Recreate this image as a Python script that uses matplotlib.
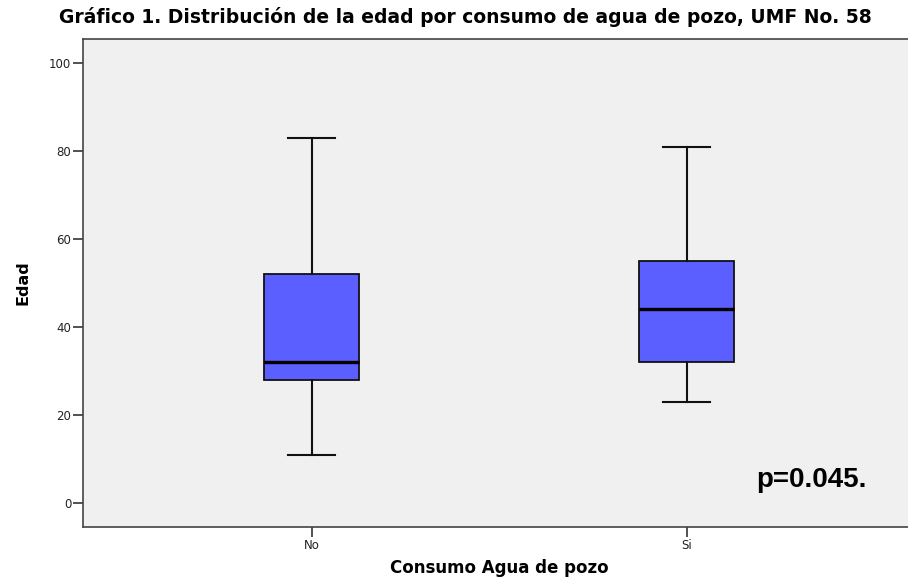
import matplotlib.pyplot as plt

# Box plot summary
categories = ['No', 'Si']
whisker_low = [11, 23]
q1 = [28, 32]
median = [32, 44]
q3 = [52, 55]
whisker_high = [83, 81]

BOX_COLOR = '#5B5FFF'
BG_COLOR = '#F0F0F0'


def main():
    plt.rcParams['font.family'] = ['DejaVu Sans']
    fig = plt.figure(figsize=(9.08, 5.8), dpi=100)
    # right spine sits just past the figure edge, as in the reference
    ax = fig.add_axes([83 / 908, 1 - 527 / 580, 832 / 908, 488 / 580])
    ax.set_facecolor(BG_COLOR)

    stats = []
    for i, name in enumerate(categories):
        stats.append({'label': name, 'whislo': whisker_low[i], 'q1': q1[i],
                      'med': median[i], 'q3': q3[i], 'whishi': whisker_high[i],
                      'fliers': []})

    ax.bxp(stats, positions=range(len(categories)), widths=0.253,
           patch_artist=True, showfliers=False,
           boxprops=dict(facecolor=BOX_COLOR, edgecolor='#111111', linewidth=1.3),
           medianprops=dict(color='black', linewidth=2.4),
           whiskerprops=dict(color='#111111', linewidth=1.5),
           capprops=dict(color='#111111', linewidth=1.5),
           capwidths=0.125)

    ax.set_xlim(-0.61, 1.608)
    ax.set_ylim(-5.45, 105.45)
    ax.set_yticks([0, 20, 40, 60, 80, 100])
    ax.set_xticks(range(len(categories)))
    ax.set_xticklabels(categories)
    ax.tick_params(axis='both', direction='out', length=7, width=1.2, pad=1.5,
                   colors='#333333', labelsize=8.5, labelcolor='#222222')
    for spine in ax.spines.values():
        spine.set_color('#444444')
        spine.set_linewidth(1.2)

    ax.set_ylabel('Edad', fontsize=11.5, fontweight='bold', labelpad=13)
    ax.set_xlabel('Consumo Agua de pozo', fontsize=12, fontweight='bold',
                  labelpad=5)
    fig.text(465 / 908, 1 - 17 / 580,
             'Gráfico 1. Distribución de la edad por consumo de agua de pozo, UMF No. 58',
             ha='center', va='center', fontsize=13.5, fontweight='bold')
    ax.text(1.333, 5.2, 'p=0.045.', ha='center', va='center',
            fontsize=20, fontweight='bold', family='Liberation Sans')

    fig.savefig('out.png', dpi=100)


if __name__ == '__main__':
    main()
